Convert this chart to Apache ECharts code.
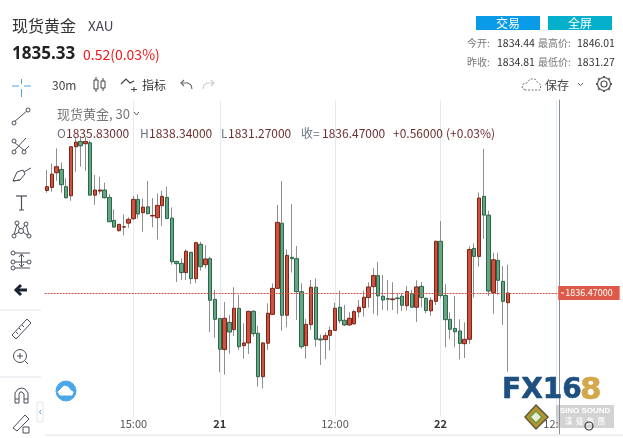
<!DOCTYPE html>
<html><head><meta charset="utf-8">
<style>html,body{margin:0;padding:0;background:#fff}#c{width:623px;height:438px}</style>
<script src="https://cdn.jsdelivr.net/npm/echarts@6/dist/echarts.min.js"></script>
</head><body><div id="c"></div>
<script>
const opens=[1843.25,1843.45,1844.42,1844.64,1843.50,1842.90,1846.14,1846.49,1846.34,1846.40,1842.94,1843.21,1843.28,1842.79,1841.27,1840.59,1840.83,1841.09,1841.38,1842.66,1841.78,1842.17,1841.56,1841.45,1842.24,1842.79,1841.42,1838.56,1838.43,1837.82,1839.16,1837.42,1839.69,1838.34,1838.74,1836.05,1834.78,1832.73,1834.53,1834.05,1835.46,1832.99,1833.17,1835.26,1833.81,1830.94,1833.15,1835.06,1836.78,1841.08,1835.00,1838.83,1838.74,1836.56,1832.99,1834.38,1836.85,1833.43,1833.39,1833.67,1834.00,1835.53,1834.67,1834.36,1834.43,1835.22,1835.51,1836.17,1836.89,1837.62,1836.26,1836.10,1836.03,1836.14,1836.26,1835.63,1836.43,1835.53,1836.91,1836.12,1835.29,1835.92,1839.89,1836.31,1834.73,1834.13,1833.96,1833.12,1833.41,1839.42,1838.89,1842.86,1841.62,1836.49,1838.63,1837.24,1835.83];
const closes=[1843.50,1844.33,1844.82,1843.63,1842.77,1846.14,1846.45,1846.20,1846.49,1842.94,1843.28,1843.28,1842.77,1841.18,1840.83,1841.01,1840.85,1841.34,1842.66,1841.69,1842.15,1841.71,1841.60,1842.26,1842.86,1841.40,1838.54,1838.41,1837.82,1839.23,1837.42,1839.80,1838.21,1838.72,1835.99,1834.73,1832.75,1834.80,1833.89,1835.46,1832.92,1833.17,1835.26,1833.78,1830.94,1833.17,1835.13,1836.78,1841.14,1835.00,1838.96,1838.74,1836.56,1832.92,1834.40,1836.85,1833.41,1833.37,1833.65,1834.00,1835.46,1834.64,1834.36,1834.80,1835.24,1835.53,1836.19,1836.87,1837.62,1836.28,1836.01,1836.06,1836.08,1836.10,1835.66,1836.56,1835.53,1836.87,1836.17,1835.31,1835.99,1839.89,1836.31,1834.71,1834.07,1833.91,1833.14,1833.41,1839.35,1838.89,1842.75,1841.62,1836.60,1838.67,1837.31,1835.92,1836.47];
const lows=[1843.10,1843.16,1843.89,1843.10,1842.72,1842.57,1844.49,1844.82,1844.55,1842.92,1842.31,1843.01,1842.72,1841.17,1840.81,1840.54,1840.28,1840.78,1841.29,1841.40,1840.52,1841.69,1840.81,1840.01,1840.90,1841.34,1838.34,1837.20,1837.33,1837.33,1837.07,1837.11,1837.95,1838.10,1833.89,1833.52,1831.23,1831.07,1832.46,1833.63,1832.70,1832.13,1832.44,1833.59,1830.28,1830.17,1832.70,1835.02,1836.76,1833.98,1834.20,1837.82,1834.69,1832.77,1832.13,1834.03,1832.92,1831.71,1832.09,1832.66,1833.98,1834.47,1834.29,1834.29,1834.38,1834.85,1834.91,1835.51,1835.09,1834.98,1835.35,1835.31,1835.35,1835.09,1835.29,1835.31,1835.51,1834.56,1835.51,1835.13,1834.96,1835.68,1836.12,1832.88,1833.41,1832.88,1832.08,1832.17,1833.10,1836.16,1838.21,1840.04,1836.27,1835.10,1836.34,1834.35,1831.27];
const highs=[1844.60,1845.04,1846.03,1845.10,1844.05,1846.18,1846.78,1846.80,1846.80,1846.54,1844.27,1844.16,1843.76,1843.01,1842.00,1841.03,1841.67,1841.47,1842.90,1842.99,1842.72,1843.87,1842.75,1843.05,1843.23,1843.50,1842.13,1838.60,1838.76,1839.36,1839.20,1839.86,1839.86,1839.64,1838.87,1836.67,1834.80,1835.88,1835.02,1836.85,1836.34,1834.47,1835.28,1835.35,1834.31,1833.21,1835.79,1837.11,1842.29,1843.87,1839.36,1842.35,1839.58,1837.11,1834.75,1837.33,1837.44,1833.72,1833.87,1834.25,1835.83,1836.63,1835.68,1835.20,1835.35,1836.01,1836.63,1837.18,1838.11,1838.52,1837.66,1837.33,1837.18,1836.45,1836.45,1836.93,1836.67,1837.31,1837.20,1836.17,1836.19,1839.93,1841.23,1837.06,1835.19,1836.27,1834.73,1834.53,1839.57,1839.75,1843.12,1846.01,1841.91,1839.13,1839.13,1838.25,1838.34];
const tickSlots=[18,36,60,82,105];
const tickTexts=['15:00','21','12:00','22','12:'];
const dayLines=[18,36,60,82,106];
const lastPrice=1836.47;

const categories=[];
for(let i=0;i<107;i++){const k=tickSlots.indexOf(i);categories.push(k>=0?tickTexts[k]:String(i));}
const wickData=opens.map((o,i)=>[o,closes[i],lows[i],highs[i]]);
const bodyData=opens.map((o,i)=>[o,closes[i],Math.min(o,closes[i]),Math.max(o,closes[i])]);

const FONT='"Noto Sans CJK SC","Noto Sans",sans-serif';
const G=[];
function T(x,y,text,size,fill,o){G.push({type:'text',z:50,silent:true,style:Object.assign({x,y,text,fontSize:size,fontFamily:FONT,fill,verticalAlign:'middle',align:'left'},o||{})});}
function L(pts,stroke,w,o){G.push({type:'polyline',z:50,silent:true,shape:{points:pts},style:Object.assign({stroke:stroke||'#555',lineWidth:w||1,fill:null},o||{})});}
function C(cx,cy,r,stroke,w,fill){G.push({type:'circle',z:50,silent:true,shape:{cx,cy,r},style:{stroke:stroke||'#555',lineWidth:w||1,fill:fill||'#fff'}});}
function R(x,y,w,h,fill,stroke){G.push({type:'rect',z:49,silent:true,shape:{x,y,width:w,height:h},style:{fill,stroke:stroke||null}});}
function P(pts,fill,stroke,w){G.push({type:'polygon',z:50,silent:true,shape:{points:pts},style:{fill,stroke:stroke||null,lineWidth:w||1}});}

// header
T(12,26,'现货黄金',16,'#333');
T(88,26,'XAU',13.5,'#445');
T(12,54,'1835.33',17,'#222',{fontWeight:'bold',fontFamily:'"Open Sans",sans-serif'});
T(83,55,'0.52(0.03%)',14,'#f01818');
T(52,85,'30m',12,'#444');
T(142,85,'指标',12,'#333');
T(57,114,'现货黄金, 30',13,'#777');
L([[134,112],[136.5,115],[139,112]],'#555',1);
const ohlcDark='#6e2f2f';
T(57,133,'O',12,'#6b7280');T(66,133,'1835.83000',12,ohlcDark);
T(140,133,'H',12,'#6b7280');T(149,133,'1838.34000',12,ohlcDark);
T(221,133,'L',12,'#6b7280');T(228,133,'1831.27000',12,ohlcDark);
T(301,133,'收=',12,'#6b7280');T(322,133,'1836.47000',12,ohlcDark);
T(393,133,'+0.56000',12,ohlcDark);T(446,133,'(+0.03%)',12,ohlcDark);
// right header
R(476,16,64,14,'#0a9be8');R(548,16,64,14,'#05b0cc');
T(508,23,'交易',12,'#fff',{align:'center'});T(580,23,'全屏',12,'#fff',{align:'center'});
T(467,43,'今开:',10,'#777');T(497,43,'1834.44',10.5,'#333');T(538,43,'最高价:',10,'#777');T(577,43,'1846.01',10.5,'#333');
T(467,62,'昨收:',10,'#777');T(497,62,'1834.81',10.5,'#333');T(538,62,'最低价:',10,'#777');T(577,62,'1831.27',10.5,'#333');
T(545,85,'保存',12,'#444');
L([[578,83],[580.5,85.5],[583,83]],'#666',1);
L([[525,90],[522,88],[523,84],[527,83],[530,79],[535,79],[538,83],[541,85],[540,90],[525,90]],'#777',1,{lineDash:[2,1.5]});
// gear
C(604,84,3,'#555',1.2);C(604,84,6.5,'#555',1.2,'rgba(0,0,0,0)');
for(const a of [0,45,90,135,180,225,270,315]){const r=a*Math.PI/180;L([[604+6.5*Math.cos(r),84+6.5*Math.sin(r)],[604+8*Math.cos(r),84+8*Math.sin(r)]],'#555',2);}
// chart toolbar
G.push({type:'rect',z:50,silent:true,shape:{x:94,y:80,width:4,height:9},style:{fill:'#fff',stroke:'#444'}});
G.push({type:'rect',z:50,silent:true,shape:{x:101,y:81,width:4,height:7},style:{fill:'#fff',stroke:'#444'}});
L([[96,77],[96,80]],'#444');L([[96,89],[96,92]],'#444');L([[103,78],[103,81]],'#444');L([[103,88],[103,91]],'#444');
L([[121,84],[126,79],[130,83],[134,81]],'#444',1.2);L([[134,87],[134,92]],'#444');L([[131,89.5],[137,89.5]],'#444');
L([[184,80],[181,83],[184,86]],'#666',1.1);L([[181,83],[188,83],[191,85],[192,89]],'#666',1.1);
L([[211,80],[214,83],[211,86]],'#ccc',1.1);L([[214,83],[207,83],[204,85],[203,89]],'#ccc',1.1);
// left toolbar
const s='#4a4f5a';
const B='#4da6ea';
L([[12,86],[19,86]],B);L([[24,86],[31,86]],B);L([[21.5,79],[21.5,84]],B);L([[21.5,89],[21.5,97]],B);
L([[14,122],[28,110]],s);C(14,123,2,s);C(28,110,2,s);
L([[14,151],[26,138]],s);L([[24,151],[29,146]],s);L([[14,142],[20,147],[25,151]],s);C(14,141,2,s);C(14,152,2,s);C(24,152,2,s);
P([[13,181],[17,172],[23,170],[25,174],[20,180]],'#fff',s);L([[24,172],[29,169],[31,168]],s);L([[13,181],[20,180]],s);
L([[16,196],[27,196]],s,1.2);L([[21.5,196],[21.5,210]],s,1.2);L([[19,210],[24,210]],s);
L([[14,235],[17,224],[21,231],[26,224],[29,236]],s);L([[14,235],[21,231],[29,236]],s);C(14,236,2,s);C(17,223,2,s);C(21,231,2.5,s);C(26,224,2,s);C(29,236,2,s);
L([[15,253],[30,253]],s);L([[15,262],[30,262]],s);L([[15,268],[30,268]],s);C(13,253,2,s);C(13,262,2,s);C(13,268,2,s);C(29,262,2,s);L([[21.5,254],[21.5,267]],s);L([[19,257],[21.5,254],[24,257]],s);L([[19,264],[21.5,267],[24,264]],s);
L([[16,290],[27,290]],'#1c2433',3);L([[21,285],[16,290],[21,295]],'#1c2433',3);
L([[0,310],[41,310]],'#dfe3ea');
P([[12,335],[27,319],[31,323],[16,339]],'#fff',s);
L([[16,332],[18,334]],s);L([[19,328],[21,330]],s);L([[22,325],[24,327]],s);
C(20,356,6.5,s);L([[17,356],[23,356]],s);L([[20,353],[20,359]],s);L([[25,361],[28,364]],s);
L([[0,377],[41,377]],'#dfe3ea');
L([[15,403],[15,393],[18,389],[22,388],[25,389],[28,393],[28,403],[24,403],[24,394],[22,392],[20,392],[19,394],[19,403],[15,403]],s);L([[15,399],[19,399]],s);L([[24,399],[28,399]],s);
P([[13,428],[25,415],[29,419],[17,431]],'#fff',s);
G.push({type:'rect',z:50,silent:true,shape:{x:23,y:427,width:6,height:6},style:{fill:'#fff',stroke:s}});
G.push({type:'rect',z:49,silent:true,shape:{x:37,y:402,width:6,height:20,r:2},style:{fill:'#fff',stroke:'#dfe3ea'}});
L([[41,410],[39.5,412],[41,414]],'#6aa6d8');
// cloud button
C(66,391,10,'#4aa8e8',1,'#4aa8e8');
L([[60,395],[58,392],[61,389],[64,386],[68,387],[70,390],[73,392],[72,395],[60,395]],'#fff',1,{fill:'#fff'});
// x-axis baseline
L([[45,435],[623,435]],'#dcdfe5');
// white tick inside price tag
L([[561,293],[564,293]],'#fff');
// logo
T(502,391,'FX16',28,'#1d4f80',{fontFamily:'"DejaVu Sans",sans-serif',fontWeight:'bold',stroke:'#1d4f80',lineWidth:0.6});
T(580,391,'8',31,'#d3a84a',{fontFamily:'"DejaVu Sans",sans-serif',fontWeight:'bold',stroke:'#d3a84a',lineWidth:0.6});
P([[536,405],[548,417],[536,429],[525,417]],'#b8932f','#5a5a3a',1.5);
P([[536,411],[542,417],[536,423],[530,417]],'#e8ecd8','#6c9a3c',1.5);
R(556,405,58,23,'rgba(130,130,130,0.35)');
T(585,411,'SiNO SOUND',8,'#fff',{align:'center',fontWeight:'bold',fontFamily:'"Liberation Sans",sans-serif'});
T(585,421,'漢  聲  集  團',7.5,'#fff',{align:'center'});
C(589,426,4,'#333',1.2,'rgba(0,0,0,0)');

const dayMarks=dayLines.map(i=>[{xAxis:i,yAxis:1849.2},{xAxis:i,yAxis:1828.3}]);
const chart=echarts.init(document.getElementById('c'));
chart.setOption({
  animation:false,
  backgroundColor:'#fff',
  textStyle:{fontFamily:FONT},
  grid:{left:44.6,top:100,width:513.6,height:334},
  xAxis:{type:'category',data:categories,boundaryGap:true,
    axisLine:{show:false},axisTick:{show:false},splitLine:{show:false},
    axisLabel:{inside:true,margin:5,fontSize:11,color:'#555',hideOverlap:false,
      interval:(i)=>tickSlots.includes(i),
      formatter:(v)=>(v==='21'||v==='22')?'{d|'+v+'}':v,
      rich:{d:{fontWeight:'bold',fontSize:11,color:'#333'}}}},
  yAxis:{type:'value',position:'right',offset:1,min:1827.15,max:1849.23,
    axisLine:{show:true,lineStyle:{color:'#8a8f99',width:1}},axisTick:{show:false},axisLabel:{show:false},splitLine:{show:false}},
  series:[
    {type:'candlestick',name:'wick',data:wickData,barWidth:1,z:2,silent:true,
      itemStyle:{color:'#8f8f8f',color0:'#8f8f8f',borderColor:'#8f8f8f',borderColor0:'#8f8f8f',borderWidth:1},
      markLine:{silent:true,symbol:'none',animation:false,z:1,precision:2,
        lineStyle:{color:'#e2ebf3',width:1,type:'solid'},label:{show:false},data:dayMarks}},
    {type:'candlestick',name:'现货黄金',data:bodyData,barWidth:4,z:3,silent:true,
      itemStyle:{color:'#cf503c',color0:'#64a583',borderColor:'#7c2518',borderColor0:'#2a6649',borderWidth:1},
      markLine:{silent:true,symbol:'none',animation:false,z:5,precision:2,
        lineStyle:{color:'#c8574a',width:1,type:[2,1]},
        label:{show:true,position:'end',distance:0,formatter:'1836.47000',color:'#fff',backgroundColor:'#dd5a49',
          fontSize:9,padding:[2.5,7,2.5,7],align:'left',verticalAlign:'middle'},
        data:[{yAxis:lastPrice}]}}
  ],
  graphic:G
});
</script></body></html>
